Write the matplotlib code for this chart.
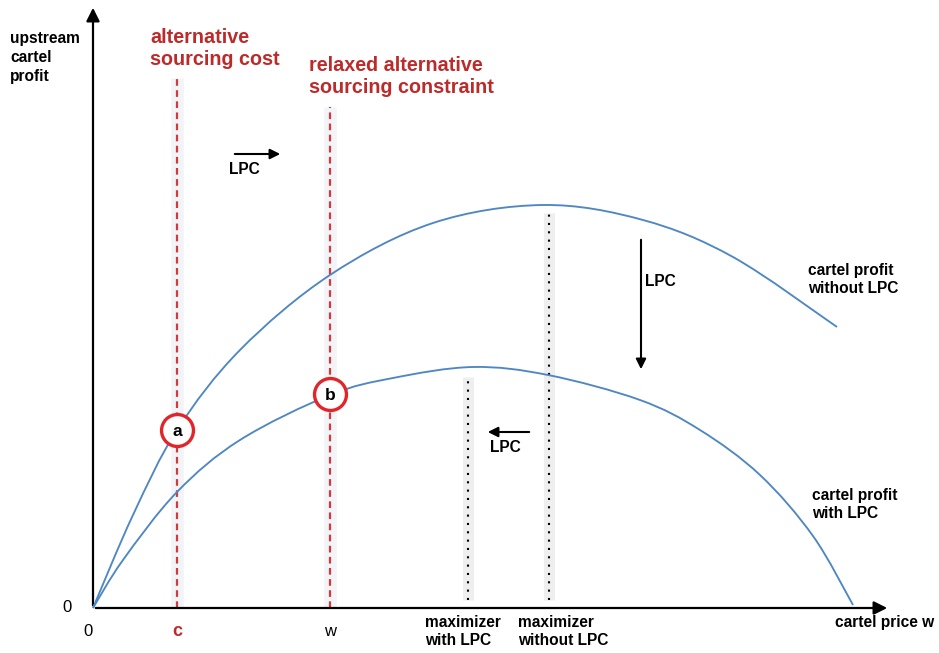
import matplotlib
matplotlib.use("Agg")
import matplotlib.pyplot as plt
from matplotlib.path import Path
from matplotlib.patches import PathPatch

plt.rcParams['font.family'] = ['Liberation Sans', 'DejaVu Sans']

# ---- data (diagram units: price right of origin, profit above axis) ----
price_without = [0, 40, 84, 147, 237, 340, 450, 550, 640, 744]
profit_without = [0, 93, 178, 258, 333, 385, 403, 388, 351, 281]

price_with = [0, 30, 84, 147, 237, 300, 380, 455, 547, 607, 667, 720, 760]
profit_with = [0, 48, 116, 168, 213, 230, 241, 233, 208, 178, 133, 72, 3]

c_price = 84
w_price = 237
max_with_lpc = 375
max_without_lpc = 456
point_a = (84, 178)
point_b = (237, 214)

RED_TXT = '#bd2a2a'
RED_LINE = '#cf3a3a'
RED_CIRC = '#e0262b'
BLUE = '#4f87c2'


def smooth_path(xs, ys):
    """Catmull-Rom curve through the read points, as cubic Bezier segments."""
    pts = list(zip(xs, ys))
    verts = [pts[0]]
    codes = [Path.MOVETO]
    n = len(pts)
    for i in range(n - 1):
        p0 = pts[i - 1] if i > 0 else pts[i]
        p1 = pts[i]
        p2 = pts[i + 1]
        p3 = pts[i + 2] if i + 2 < n else pts[i + 1]
        c1 = (p1[0] + (p2[0] - p0[0]) / 6.0, p1[1] + (p2[1] - p0[1]) / 6.0)
        c2 = (p2[0] - (p3[0] - p1[0]) / 6.0, p2[1] - (p3[1] - p1[1]) / 6.0)
        verts += [c1, c2, p2]
        codes += [Path.CURVE4] * 3
    return Path(verts, codes)


fig = plt.figure(figsize=(9.39, 6.53), dpi=100)
ax = fig.add_axes([0, 0, 1, 1])
ax.set_xlim(-93, 846)
ax.set_ylim(-45, 608)
ax.axis('off')

# axes with arrows
ax.annotate('', xy=(0, 603), xytext=(0, 0),
            arrowprops=dict(arrowstyle='-|>', lw=1.6, color='black', mutation_scale=20))
ax.annotate('', xy=(797, 0), xytext=(0, 0),
            arrowprops=dict(arrowstyle='-|>', lw=1.6, color='black', mutation_scale=20))

# dashed red constraint lines (with faint band)
for x, top in [(c_price, 530), (w_price, 501)]:
    ax.plot([x, x], [0, top], color='#f2f4f8', lw=9, solid_capstyle='butt', zorder=1)
    ax.plot([x, x], [0, top], color=RED_LINE, lw=1.6, linestyle=(0, (3, 2)), zorder=2)

# dotted maximizer lines
for x, top in [(max_with_lpc, 231), (max_without_lpc, 395)]:
    ax.plot([x, x], [8, top], color='#efefef', lw=8, solid_capstyle='butt', zorder=1)
    ax.plot([x, x], [8, top], color='black', lw=1.5, linestyle=(0, (1, 3)), zorder=2)

# curves
for xs, ys in [(price_without, profit_without), (price_with, profit_with)]:
    ax.add_patch(PathPatch(smooth_path(xs, ys), facecolor='none', edgecolor=BLUE,
                           lw=1.35, zorder=3))

# circles a and b
for (px, py), lab in [(point_a, 'a'), (point_b, 'b')]:
    ax.plot(px, py, marker='o', markersize=23, mfc='white', mec=RED_CIRC, mew=2.4, zorder=5)
    ax.text(px, py - 1, lab, ha='center', va='center', fontsize=12.5, fontweight='bold', zorder=6)

# LPC arrows
arrow_kw = dict(arrowstyle='-|>', lw=1.5, color='black', mutation_scale=15)
ax.annotate('', xy=(190, 454), xytext=(139, 454), arrowprops=arrow_kw)
ax.annotate('', xy=(548, 236), xytext=(548, 371), arrowprops=arrow_kw)
ax.annotate('', xy=(392, 176), xytext=(439, 176), arrowprops=arrow_kw)

bold = dict(fontsize=11.2, fontweight='bold', color='black')
ax.text(151, 438, 'LPC', ha='center', va='center', **bold)
ax.text(552, 326, 'LPC', ha='left', va='center', **bold)
ax.text(412, 160, 'LPC', ha='center', va='center', **bold)

# labels
ax.text(-83, 577, 'upstream\ncartel\nprofit', ha='left', va='top', linespacing=1.32, **bold)
ax.text(57, 580, 'alternative\nsourcing cost', ha='left', va='top', linespacing=1.22,
        fontsize=14.2, fontweight='bold', color=RED_TXT)
ax.text(216, 552, 'relaxed alternative\nsourcing constraint', ha='left', va='top', linespacing=1.22,
        fontsize=14.2, fontweight='bold', color=RED_TXT)
ax.text(715, 345, 'cartel profit\nwithout LPC', ha='left', va='top', linespacing=1.24, **bold)
ax.text(719, 120, 'cartel profit\nwith LPC', ha='left', va='top', linespacing=1.26, **bold)
ax.text(332, -7, 'maximizer\nwith LPC', ha='left', va='top', linespacing=1.28, **bold)
ax.text(425, -7, 'maximizer\nwithout LPC', ha='left', va='top', linespacing=1.28, **bold)
ax.text(742, -14, 'cartel price w', ha='left', va='center', **bold)

# tick-like labels
ax.text(-26, 1, '0', ha='center', va='center', fontsize=12)
ax.text(-5, -24, '0', ha='center', va='center', fontsize=12)
ax.text(c_price, -24, 'c', ha='center', va='center', fontsize=13, fontweight='bold', color=RED_TXT)
ax.text(w_price, -24, 'w', ha='center', va='center', fontsize=12)

fig.savefig('out.png', dpi=100, facecolor='white')
